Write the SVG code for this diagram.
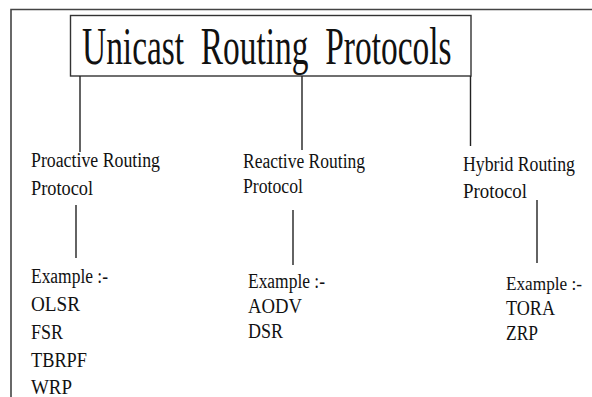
<svg xmlns="http://www.w3.org/2000/svg" width="592" height="397" viewBox="0 0 592 397">
<style>
.t{font-family:"Liberation Serif","Times New Roman",serif;font-size:20px;fill:#111}
.h{font-family:"Liberation Serif","Times New Roman",serif;font-size:52px;fill:#111}
.ln{stroke:#222;stroke-width:1.4;fill:none}
.fr{stroke:#444;stroke-width:1.6;fill:none}
</style>
<rect width="592" height="397" fill="#fff"/>
<path class="fr" d="M11,397 V9.5 H592"/>
<g id="title">
<rect x="70.5" y="15.5" width="400.5" height="60.5" fill="#fff" stroke="#333" stroke-width="1.4"/>
<text class="h" transform="translate(82,64) scale(0.643,1)" x="0" y="0" xml:space="preserve">Unicast  Routing  Protocols</text>
</g>
<g id="connectors">
<path class="ln" d="M80,76 V152"/>
<path class="ln" d="M302,76 V150"/>
<path class="ln" d="M470.5,76 V146"/>
<path class="ln" d="M76,205 V258"/>
<path class="ln" d="M293,210 V265"/>
<path class="ln" d="M537,200 V263"/>
</g>
<g id="proactive">
<text class="t" x="31" y="167" textLength="129" lengthAdjust="spacingAndGlyphs">Proactive Routing</text>
<text class="t" x="31" y="195" textLength="62" lengthAdjust="spacingAndGlyphs">Protocol</text>
</g>
<g id="proactive-examples">
<text class="t" x="31" y="283" textLength="77" lengthAdjust="spacingAndGlyphs">Example :-</text>
<text class="t" x="31" y="311" textLength="49" lengthAdjust="spacingAndGlyphs">OLSR</text>
<text class="t" x="31" y="339" textLength="32" lengthAdjust="spacingAndGlyphs">FSR</text>
<text class="t" x="31" y="367" textLength="56" lengthAdjust="spacingAndGlyphs">TBRPF</text>
<text class="t" x="31" y="394" textLength="41" lengthAdjust="spacingAndGlyphs">WRP</text>
</g>
<g id="reactive">
<text class="t" x="243" y="168" textLength="122" lengthAdjust="spacingAndGlyphs">Reactive Routing</text>
<text class="t" x="243" y="193" textLength="60" lengthAdjust="spacingAndGlyphs">Protocol</text>
</g>
<g id="reactive-examples">
<text class="t" x="248" y="288" textLength="77" lengthAdjust="spacingAndGlyphs">Example :-</text>
<text class="t" x="248" y="313" textLength="54" lengthAdjust="spacingAndGlyphs">AODV</text>
<text class="t" x="248" y="338" textLength="35" lengthAdjust="spacingAndGlyphs">DSR</text>
</g>
<g id="hybrid">
<text class="t" x="463" y="171" textLength="112" lengthAdjust="spacingAndGlyphs">Hybrid Routing</text>
<text class="t" x="463" y="198" textLength="64" lengthAdjust="spacingAndGlyphs">Protocol</text>
</g>
<g id="hybrid-examples">
<text class="t" x="506" y="290" style="font-size:18.5px" textLength="76" lengthAdjust="spacingAndGlyphs">Example :-</text>
<text class="t" x="506" y="315" textLength="49" lengthAdjust="spacingAndGlyphs">TORA</text>
<text class="t" x="506" y="340" textLength="32" lengthAdjust="spacingAndGlyphs">ZRP</text>
</g>
</svg>
